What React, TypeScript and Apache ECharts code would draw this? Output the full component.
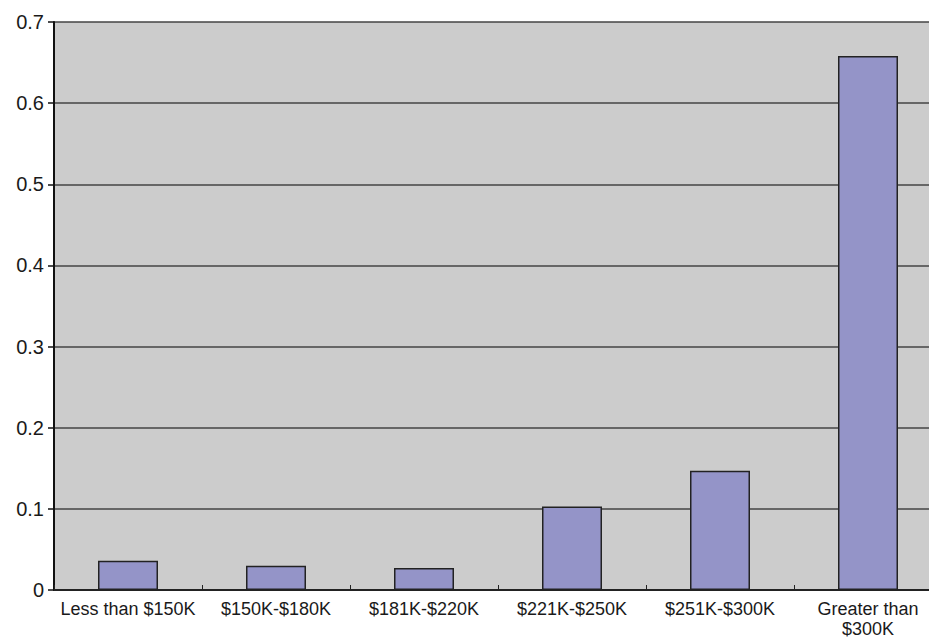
import React, { useEffect, useRef } from "react";
import * as echarts from "echarts";

const categories = [
  "Less than $150K",
  "$150K-$180K",
  "$181K-$220K",
  "$221K-$250K",
  "$251K-$300K",
  "Greater than\n$300K",
];
const values = [0.036, 0.030, 0.027, 0.103, 0.147, 0.658];
const yTicks = { min: 0, max: 0.7, interval: 0.1 };

export default function App() {
  const ref = useRef<HTMLDivElement>(null);
  useEffect(() => {
    const chart = echarts.init(ref.current!, null, { renderer: "svg" });
    chart.setOption({
      animation: false,
      backgroundColor: "#ffffff",
      grid: {
        left: 54,
        top: 22,
        width: 888,
        height: 568,
        backgroundColor: "#cccccc",
        show: true,
        borderWidth: 0,
      },
      xAxis: {
        type: "category",
        data: categories,
        axisLine: { show: true, lineStyle: { color: "#222222", width: 2 } },
        axisTick: { show: true, inside: true, length: 5, lineStyle: { color: "#222222", width: 1 } },
        axisLabel: {
          color: "#1a1a1a",
          fontFamily: "Liberation Sans, Arial, sans-serif",
          fontSize: 18,
          margin: 9,
          interval: 0,
          lineHeight: 20,
        },
      },
      yAxis: {
        type: "value",
        min: yTicks.min,
        max: yTicks.max,
        interval: yTicks.interval,
        axisLine: { show: true, lineStyle: { color: "#111111", width: 2 } },
        axisTick: { show: true, length: 6, lineStyle: { color: "#111111", width: 1.5 } },
        axisLabel: {
          color: "#1a1a1a",
          fontFamily: "Liberation Sans, Arial, sans-serif",
          fontSize: 20,
          margin: 10,
          formatter: (v: number) => (v === 0 ? "0" : String(Math.round(v * 10) / 10)),
        },
        splitLine: { show: true, lineStyle: { color: "#444444", width: 1.5 } },
      },
      series: [
        {
          type: "bar",
          data: values,
          barWidth: 60,
          itemStyle: { color: "#9494c8", borderColor: "#222222", borderWidth: 1.5 },
        },
      ],
    });
    return () => chart.dispose();
  }, []);
  return (
    <div
      style={{ position: "fixed", left: 0, top: 0, width: 929, height: 639, overflow: "hidden", background: "#ffffff" }}
    >
      <div ref={ref} style={{ width: 960, height: 639 }} />
    </div>
  );
}
